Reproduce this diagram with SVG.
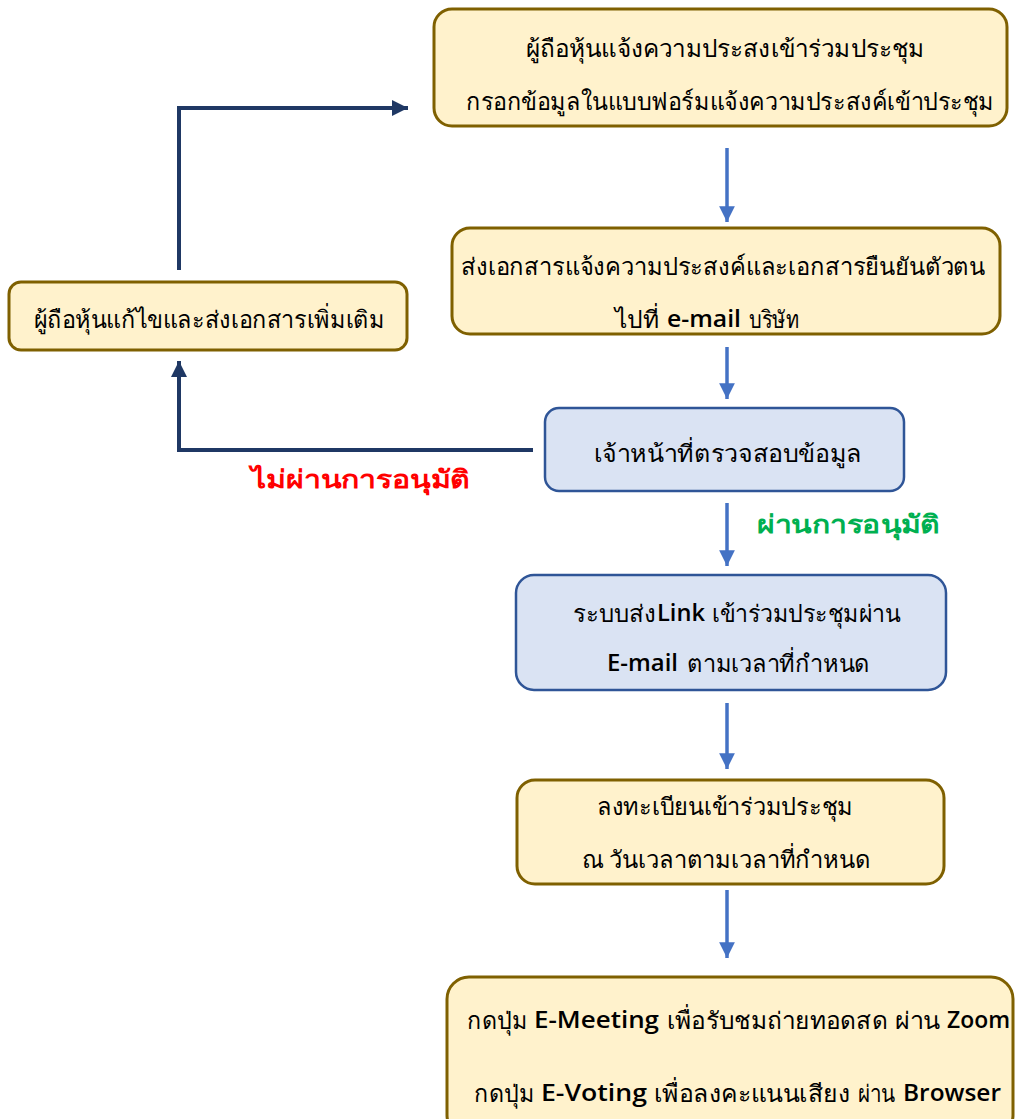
<svg xmlns="http://www.w3.org/2000/svg" width="1015" height="1119" viewBox="0 0 1015 1119">
<style>
.y{fill:#FFF2CC;stroke:#7F6000;stroke-width:3}
.b{fill:#DAE3F3;stroke:#2F5597;stroke-width:2.5}
text{font-family:"Noto Sans","DejaVu Sans",sans-serif;font-size:24px;fill:#000;text-anchor:middle;dominant-baseline:central}
.s{text-anchor:start}
.en{font-family:"Open Sans","Liberation Sans",sans-serif;font-weight:600;font-size:23px}
.c1{stroke:#4472C4;stroke-width:3.5;fill:none}
.c2{stroke:#1F3864;stroke-width:4;fill:none}
.red{fill:#FF0000;font-weight:bold;font-size:25px}
.green{fill:#00B050;font-weight:bold;font-size:25px}
</style>
<defs>
<marker id="ab" viewBox="0 0 10 10" refX="10" refY="5" markerWidth="4.5" markerHeight="4.5" orient="auto" markerUnits="strokeWidth"><path d="M0,0L10,5L0,10z" fill="#4472C4"/></marker>
<marker id="an" viewBox="0 0 10 10" refX="10" refY="5" markerWidth="4" markerHeight="4" orient="auto" markerUnits="strokeWidth"><path d="M0,0L10,5L0,10z" fill="#1F3864"/></marker>
</defs>
<g id="connectors">
<line class="c1" x1="727" y1="148" x2="727" y2="222" marker-end="url(#ab)"/>
<line class="c1" x1="727" y1="347" x2="727" y2="399" marker-end="url(#ab)"/>
<line class="c1" x1="727" y1="503" x2="727" y2="566" marker-end="url(#ab)"/>
<line class="c1" x1="727" y1="703" x2="727" y2="769" marker-end="url(#ab)"/>
<line class="c1" x1="727" y1="890" x2="727" y2="958" marker-end="url(#ab)"/>
<polyline class="c2" points="533,450 179,450 179,361" marker-end="url(#an)"/>
<polyline class="c2" points="179,270 179,108 408,108" marker-end="url(#an)"/>
<text class="red" x="360" y="478" textLength="219" lengthAdjust="spacingAndGlyphs">ไม่ผ่านการอนุมัติ</text>
<text class="green" x="848" y="523" textLength="183" lengthAdjust="spacingAndGlyphs">ผ่านการอนุมัติ</text>
</g>
<g id="n1">
<rect class="y" x="434" y="9" width="573" height="117" rx="18"/>
<text x="725" y="47" textLength="399" lengthAdjust="spacingAndGlyphs">ผู้ถือหุ้นแจ้งความประสงเข้าร่วมประชุม</text>
<text x="730" y="100" textLength="528" lengthAdjust="spacingAndGlyphs">กรอกข้อมูลในแบบฟอร์มแจ้งความประสงค์เข้าประชุม</text>
</g>
<g id="n2">
<rect class="y" x="452" y="228" width="548" height="106" rx="18"/>
<text x="723" y="265" textLength="524" lengthAdjust="spacingAndGlyphs">ส่งเอกสารแจ้งความประสงค์และเอกสารยืนยันตัวตน</text>
<text class="s" x="615" y="318" textLength="44" lengthAdjust="spacingAndGlyphs">ไปที่</text>
<text class="s en" x="667" y="318" textLength="74" lengthAdjust="spacingAndGlyphs">e-mail</text>
<text class="s" x="749" y="318" textLength="50" lengthAdjust="spacingAndGlyphs">บริษัท</text>
</g>
<g id="n3">
<rect class="y" x="9" y="282" width="398" height="68" rx="12"/>
<text x="209" y="318" textLength="351" lengthAdjust="spacingAndGlyphs">ผู้ถือหุ้นแก้ไขและส่งเอกสารเพิ่มเติม</text>
</g>
<g id="n4">
<rect class="b" x="545" y="408" width="359" height="83" rx="14"/>
<text x="728" y="452" textLength="268" lengthAdjust="spacingAndGlyphs">เจ้าหน้าที่ตรวจสอบข้อมูล</text>
</g>
<g id="n5">
<rect class="b" x="516" y="575" width="430" height="115" rx="18"/>
<text class="s" x="573" y="612" textLength="83" lengthAdjust="spacingAndGlyphs">ระบบส่ง</text>
<text class="s en" x="657" y="612" textLength="48" lengthAdjust="spacingAndGlyphs">Link</text>
<text class="s" x="712" y="612" textLength="188" lengthAdjust="spacingAndGlyphs">เข้าร่วมประชุมผ่าน</text>
<text class="s en" x="607" y="662" textLength="71" lengthAdjust="spacingAndGlyphs">E-mail</text>
<text class="s" x="687" y="662" textLength="183" lengthAdjust="spacingAndGlyphs">ตามเวลาที่กำหนด</text>
</g>
<g id="n6">
<rect class="y" x="517" y="780" width="427" height="104" rx="18"/>
<text x="725" y="805" textLength="256" lengthAdjust="spacingAndGlyphs">ลงทะเบียนเข้าร่วมประชุม</text>
<text x="726" y="858" textLength="289" lengthAdjust="spacingAndGlyphs">ณ วันเวลาตามเวลาที่กำหนด</text>
</g>
<g id="n7">
<rect class="y" x="447" y="977" width="566" height="160" rx="22"/>
<text class="s" x="467" y="1019" textLength="60" lengthAdjust="spacingAndGlyphs">กดปุ่ม</text>
<text class="s en" x="534" y="1019" textLength="125" lengthAdjust="spacingAndGlyphs">E-Meeting</text>
<text class="s" x="667" y="1019" textLength="221" lengthAdjust="spacingAndGlyphs">เพื่อรับชมถ่ายทอดสด</text>
<text class="s" x="895" y="1019" textLength="45" lengthAdjust="spacingAndGlyphs">ผ่าน</text>
<text class="s en" x="947" y="1019" textLength="63" lengthAdjust="spacingAndGlyphs">Zoom</text>
<text class="s" x="474" y="1092" textLength="60" lengthAdjust="spacingAndGlyphs">กดปุ่ม</text>
<text class="s en" x="541" y="1092" textLength="106" lengthAdjust="spacingAndGlyphs">E-Voting</text>
<text class="s" x="654" y="1092" textLength="196" lengthAdjust="spacingAndGlyphs">เพื่อลงคะแนนเสียง</text>
<text class="s" x="858" y="1092" textLength="37" lengthAdjust="spacingAndGlyphs">ผ่าน</text>
<text class="s en" x="903" y="1092" textLength="98" lengthAdjust="spacingAndGlyphs">Browser</text>
</g>
</svg>
